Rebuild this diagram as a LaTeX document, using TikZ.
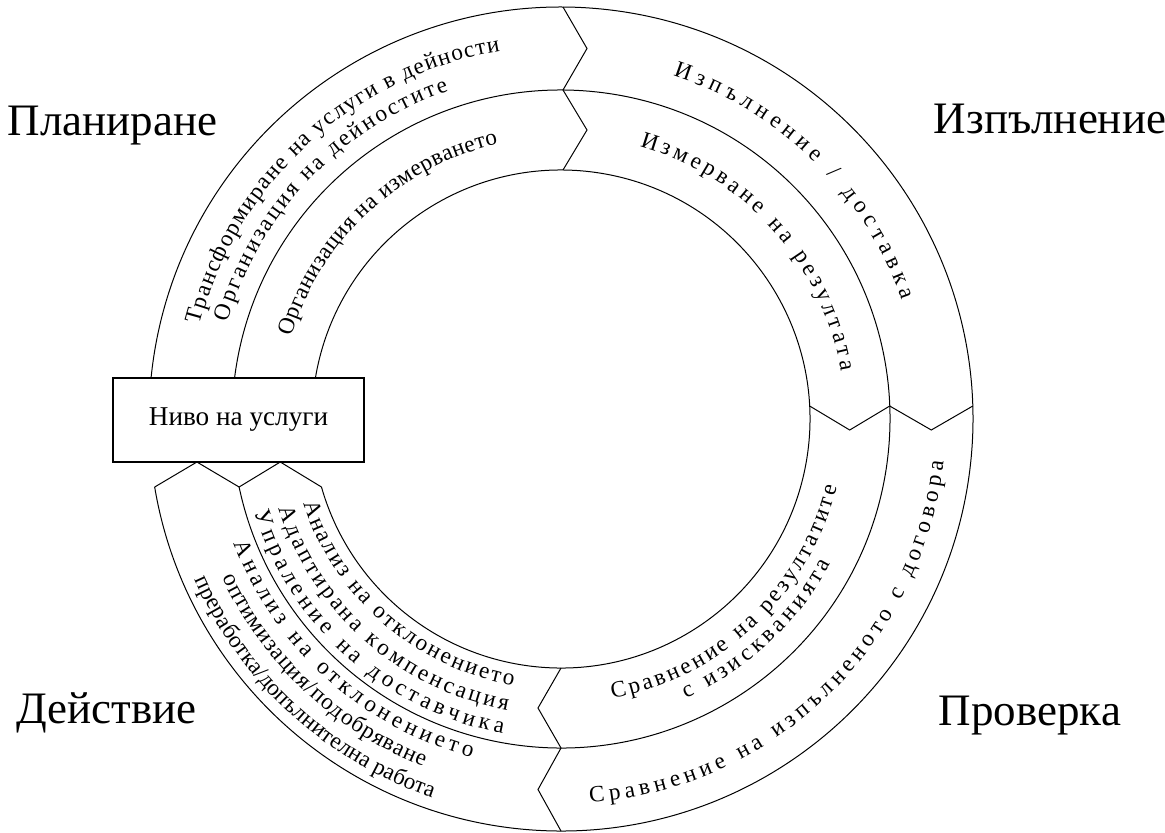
\documentclass[tikz,border=0pt]{standalone}
\usepackage{fontspec}
\setmainfont{Liberation Serif}
\usetikzlibrary{decorations.text}
\newcommand{\ringfont}{\fontsize{11.6}{13}\selectfont}

\begin{document}
\begin{tikzpicture}[x=5pt,y=5pt,
		phase/.style={font=\fontsize{22.5}{27}\selectfont,anchor=base},
		ringtext/.style={decorate,decoration={text along path,text align={fit to path},text={|\ringfont|#1}}}]
				\useasboundingbox (-56.1,-41.3) rectangle (60.4,41.9);
				% circles
				\draw[line width=0.5pt] (174.29:41.2) arc[start angle=174.29,end angle=-170.5,radius=41.2];
				\draw[line width=0.5pt] (172.84:32.9) arc[start angle=172.84,end angle=-168.07,radius=32.9];
				\draw[line width=0.5pt] (170.52:24.9) arc[start angle=170.52,end angle=-164.15,radius=24.9];
				% chevrons
				\draw[line width=0.5pt] (0.2,41.2) -- (2.6,37.05) -- (0.2,32.9) -- (2.6,28.9) -- (0.2,24.9);
				\draw[line width=0.5pt] (41.18,1.3) -- (37.03,-1.1) -- (32.87,1.3) -- (28.87,-1.1) -- (24.87,1.3);
				\draw[line width=0.5pt] (0,-24.9) -- (-2.3,-28.9) -- (0,-32.9) -- (-2.3,-37.05) -- (0,-41.2);
				\draw[line width=0.5pt] (-40.63,-6.8) -- (-36.41,-4.3) -- (-32.19,-6.8) -- (-28.07,-4.3) -- (-23.95,-6.8);
				\node[draw,fill=white,line width=0.8pt,minimum width=125.5pt,minimum height=42pt,font=\fontsize{13.6}{16}\selectfont] (level) at (-32.25,-0.1) {Ниво на услуги};
				\node[phase] (plan) at (-44.85,28.4) {Планиране};
				\node[phase] (exec) at (48.9,28.6) {Изпълнение};
				\node[phase] (act) at (-45.45,-30.4) {Действие};
				\node[phase] (check) at (46.9,-30.6) {Проверка};
				% planning
				\path[ringtext={Трансформиране на услуги в дейности}] (165.4:37.3) arc[start angle=165.4,end angle=99.4,radius=37.3];
				\path[ringtext={Организация на дейностите}] (163.8:34.7) arc[start angle=163.8,end angle=108.9,radius=34.7];
				\path[ringtext={Организация на измерването}] (163.1:28.2) arc[start angle=163.1,end angle=102.9,radius=28.2];
				% execution
				\path[ringtext={Изпълнение / доставка}] (71.9:36.1) arc[start angle=71.9,end angle=19.2,radius=36.1];
				\path[ringtext={Измерване на резултата}] (73.9:28.4) arc[start angle=73.9,end angle=9.6,radius=28.4];
				% check
				\path[ringtext={Сравнение на резултатите}] (-79.6:28.4) arc[start angle=-79.6,end angle=-13.8,radius=28.4];
				\path[ringtext={с изискванията}] (-65.9:30.6) arc[start angle=-65.9,end angle=-28.2,radius=30.6];
				\path[ringtext={Сравнение на изпълненото с договора}] (-85.7:38.5) arc[start angle=-85.7,end angle=-6.4,radius=38.5];
				% action
				\path[ringtext={Анализ на отклонението}] (-161.9:27.1) arc[start angle=-161.9,end angle=-100.2,radius=27.1];
				\path[ringtext={Адаптирана компенсация}] (-162.4:29.6) arc[start angle=-162.4,end angle=-100.4,radius=29.6];
				\path[ringtext={Упраление на доставчика}] (-163:32) arc[start angle=-163,end angle=-100.5,radius=32];
				\path[ringtext={Анализ на отклонението}] (-159.1:35) arc[start angle=-159.1,end angle=-104.8,radius=35];
				\path[ringtext={оптимизация/подобряване}] (-154.9:37.4) arc[start angle=-154.9,end angle=-111.6,radius=37.4];
				\path[ringtext={преработка/допълнителна работа}] (-156.3:40) arc[start angle=-156.3,end angle=-108.8,radius=40];
			\end{tikzpicture}
\end{document}
